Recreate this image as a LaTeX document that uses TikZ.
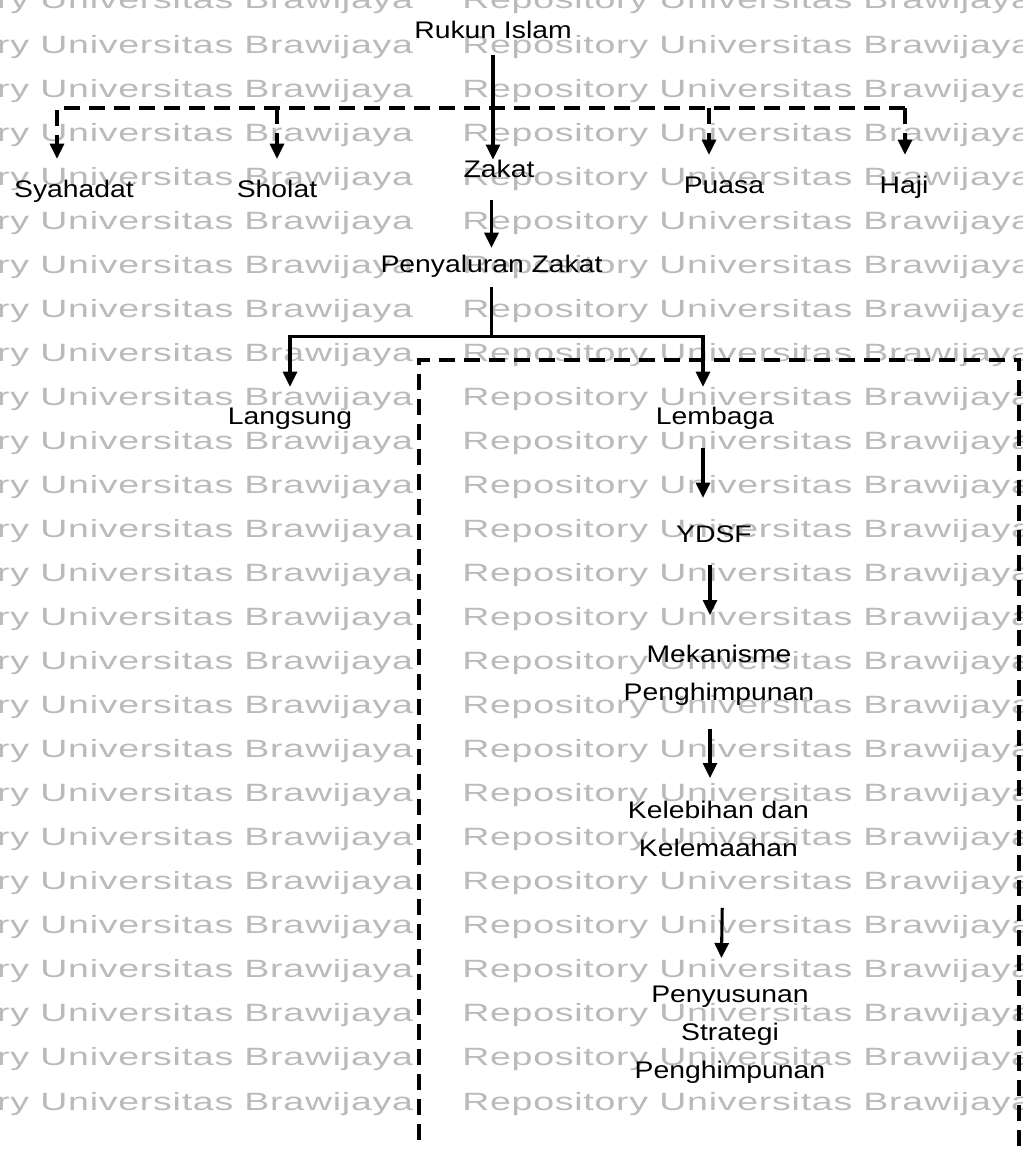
\documentclass[tikz,border=0pt]{standalone}
\usepackage{fontspec}
\setmainfont[FakeStretch=1.18]{Liberation Sans}
\newfontfamily\wmfont[FakeStretch=1.5,LetterSpace=3]{Liberation Sans}
\usetikzlibrary{arrows.meta}
\tikzset{
  lbl/.style={font=\fontsize{18}{28.5}\selectfont, inner sep=0pt, text height=12.9pt, text depth=3.75pt, anchor=base},
  mlbl/.style={font=\fontsize{18}{28.5}\selectfont, inner sep=0pt, align=center, anchor=north},
  wm/.style={font=\wmfont\fontsize{18.75}{20}\selectfont, text=black!27, inner sep=0pt, anchor=base west},
  ln/.style={line width=2.3pt},
  arr/.style={ln, -{Triangle[width=10.5pt,length=11.25pt]}},
  dsh/.style={line width=2.3pt, dash pattern=on 12pt off 6.75pt},
}
\begin{document}
\begin{tikzpicture}[x=0.75pt,y=-0.75pt]
\useasboundingbox (0,0) rectangle (1022,1149);
\fill[white] (0,0) rectangle (1022,1149);
% watermark
\begin{scope}
\clip (0,0) rectangle (1022,1149);
\foreach \j in {0,...,25}{
  \node[wm] (wmA\j) at (-157,{9+44.04*\j}) {Repository Universitas Brawijaya};
  \node[wm] (wmB\j) at (462,{9+44.04*\j}) {Repository Universitas Brawijaya};
}
\end{scope}
% nodes
\node[lbl] (rukun)  at (493,39)  {Rukun Islam};
\node[lbl] (syah)   at (74,197)  {Syahadat};
\node[lbl] (sholat) at (277,197) {Sholat};
\node[lbl] (zakat)  at (499,177) {Zakat};
\node[lbl] (puasa)  at (724,193) {Puasa};
\node[lbl] (haji)   at (904,193) {Haji};
\node[lbl] (pen)    at (491.5,272) {Penyaluran Zakat};
\node[lbl] (lang)   at (290,424) {Langsung};
\node[lbl] (lem)    at (715,424) {Lembaga};
\node[lbl] (ydsf)   at (714,542) {YDSF};
\node[mlbl] (mek)   at (719,644.8) {Mekanisme\\Penghimpunan};
\node[mlbl] (kel)   at (718.5,800.8) {Kelebihan dan\\Kelemaahan};
\node[mlbl] (pen2)  at (730,985.8) {Penyusunan\\Strategi\\Penghimpunan};
% connectors
\draw[arr, shorten <=8.25pt] (rukun.south) -- (rukun.south |- zakat.north);
\coordinate (dL) at (57,108);
\coordinate (dR) at (905,108);
\draw[dsh, -{Triangle[width=10.5pt,length=11.25pt]}, shorten >=15.6pt] (dR) -- (dL) -- (dL |- syah.north);
\draw[dsh, -{Triangle[width=10.5pt,length=11.25pt]}, shorten >=15.6pt] (sholat.north |- dL) -- (sholat.north);
\draw[dsh, -{Triangle[width=10.5pt,length=11.25pt]}, shorten >=15.6pt] ([xshift=-11.25pt]puasa.north |- dL) -- ([xshift=-11.25pt]puasa.north);
\draw[dsh, -{Triangle[width=10.5pt,length=11.25pt]}, shorten >=15.6pt] (dR) -- (dR |- haji.north);
\draw[arr, shorten <=13.5pt, shorten >=5.1pt] (zakat.south -| pen.north) -- (pen.north);
\path (pen.south) ++(0,59) coordinate (split);
\draw[ln, shorten <=7.5pt] (pen.south) -- (split);
\draw[arr, shorten >=14.85pt] (split) -| (lang.north);
\draw[arr, shorten >=14.85pt] (split) -| ([xshift=-9pt]lem.north);
\draw[arr, shorten <=14.25pt, shorten >=20.1pt] ([xshift=-9pt]lem.south) -- ([xshift=-9pt]lem.south |- ydsf.north);
\draw[arr, shorten <=13.5pt, shorten >=22.35pt] ([xshift=-3pt]ydsf.south) -- ([xshift=-3pt]ydsf.south |- mek.north);
\draw[arr, shorten <=17.25pt, shorten >=17.1pt] ([xshift=-6.75pt]mek.south) -- ([xshift=-6.75pt]mek.south |- kel.north);
\draw[arr, shorten <=38.25pt, shorten >=20.85pt] ([xshift=3.4pt]kel.south) -- ([xshift=-6.75pt]pen2.north);
% dashed frame
\coordinate (fBL) at (419,1165);
\coordinate (fTL) at (419,360);
\coordinate (fTR) at (1019,360);
\coordinate (fBR) at (1019,1165);
\draw[dsh] (fBL) -- (fTL) -- (fTR) -- (fBR);
\end{tikzpicture}
\end{document}
